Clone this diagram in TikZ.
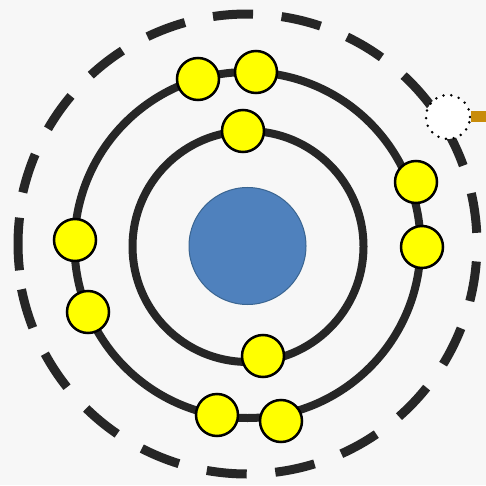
\documentclass[tikz,border=0pt]{standalone}
\usetikzlibrary{calc}
\definecolor{bgc}{RGB}{247,247,247}
\definecolor{orbitc}{RGB}{38,38,38}
\definecolor{nucc}{RGB}{79,129,189}
\definecolor{nucd}{RGB}{58,101,145}
\definecolor{elec}{RGB}{255,255,0}
\definecolor{goldc}{RGB}{200,140,10}
\tikzset{
  orbit/.style={draw=orbitc, line width=8pt},
  outerdash/.style={draw=orbitc, line width=9pt},
  electron/.style={circle, draw=black, line width=2.5pt, fill=elec, minimum size=42pt, inner sep=0pt},
  nucleus/.style={circle, draw=nucd, line width=1pt, fill=nucc, minimum size=117pt, inner sep=0pt},
  hole/.style={circle, draw=black, fill=white, line width=2.8pt, dash pattern=on 0pt off 7.8pt, line cap=round, minimum size=44pt, inner sep=0pt},
  bond/.style={draw=goldc, line width=11pt}
}
\begin{document}
\begin{tikzpicture}[x=1pt,y=1pt]
\fill[bgc] (0,0) rectangle (486,485);
\useasboundingbox (0,0) rectangle (486,485);
% orbits
\draw[orbit] (248,238.5) circle[radius=115.5];
\draw[orbit] (247.5,240) circle[radius=173];
\foreach \k in {0,...,15,17,18,19,20}{
  \pgfmathsetmacro{\ang}{93.5-17.142857*\k}
  \draw[outerdash] ($(247,241)+(\ang+5:230)$) arc[start angle=\ang+5, end angle=\ang-5, radius=230];
}
% longer dash at the seam (left)
\draw[outerdash] ($(247,241)+(186.6:229)$) arc[start angle=186.6, end angle=173.4, radius=229];
% nucleus
\node[nucleus] (nuc) at (247.5,239) {};
% electrons
\node[electron] (e1) at (198,406) {};
\node[electron] (e2) at (256,413) {};
\node[electron] (e3) at (243,354) {};
\node[electron] (e4) at (416,303) {};
\node[electron] (e5) at (422,238) {};
\node[electron] (e6) at (75,245) {};
\node[electron] (e7) at (88,173) {};
\node[electron] (e8) at (263,129) {};
\node[electron] (e9) at (217,70) {};
\node[electron] (e10) at (281,64) {};
% hole and bond
\coordinate (bondend) at (486,368);
\node[hole] (h) at (448,368) {};
\draw[bond] (h.east) -- (bondend);
\end{tikzpicture}
\end{document}
